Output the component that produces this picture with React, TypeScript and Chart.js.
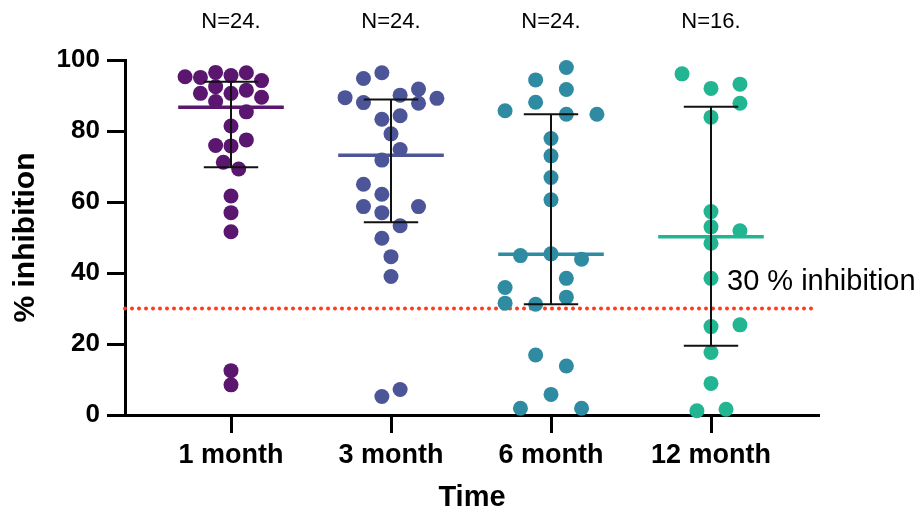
import React, { useEffect, useRef } from "react";
import { Chart, registerables } from "chart.js";

Chart.register(...registerables);

const categories = ["1 month", "3 month", "6 month", "12 month"];

const values1 = [95.3, 95.1, 96.5, 95.6, 96.4, 94.2, 90.6, 92.5, 90.6, 91.5, 89.5, 88.3, 85.4, 81.4, 75.9, 75.8, 77.5, 71.2, 69.3, 61.7, 57.0, 51.6, 12.5, 8.5];
const jitter1 = [-0.287, -0.191, -0.096, 0, 0.096, 0.191, -0.191, -0.096, 0, 0.096, 0.191, -0.096, 0.096, 0, -0.096, 0, 0.096, -0.048, 0.048, 0, 0, 0, 0, 0];

const values2 = [96.4, 94.8, 89.4, 88.0, 90.1, 91.8, 87.8, 89.2, 83.3, 84.3, 79.2, 74.8, 71.8, 65.0, 62.2, 58.7, 57.0, 58.7, 53.3, 49.8, 44.6, 39.0, 7.2, 5.2];
const jitter2 = [-0.057, -0.172, -0.287, -0.172, 0.057, 0.172, 0.172, 0.287, -0.057, 0.057, 0, 0.057, -0.057, -0.172, -0.057, -0.172, -0.057, 0.172, 0.057, -0.057, 0, 0, 0.057, -0.057];

const values3 = [97.9, 94.4, 91.7, 88.1, 85.7, 84.7, 84.7, 77.9, 73.0, 66.9, 60.6, 44.9, 45.4, 43.9, 38.5, 35.9, 33.2, 31.5, 31.2, 16.9, 13.8, 5.8, 1.9, 1.9];
const jitter3 = [0.096, -0.096, 0.096, -0.096, -0.287, 0.096, 0.287, 0, 0, 0, 0, -0.191, 0, 0.191, 0.096, -0.287, 0.096, -0.287, -0.096, -0.096, 0.096, 0, -0.191, 0.191];

const values4 = [96.1, 92.0, 93.2, 87.8, 83.9, 57.3, 53.0, 51.9, 48.4, 38.5, 24.9, 25.4, 17.6, 8.9, 1.2, 1.6];
const jitter4 = [-0.181, 0, 0.181, 0.181, 0, 0, 0, 0.181, 0, 0, 0, 0.181, 0, 0, -0.088, 0.094];

const medians = [86.7, 73.2, 45.3, 50.2];
const lowerQuartiles = [69.8, 54.3, 31.2, 19.5];
const upperQuartiles = [93.9, 88.9, 84.7, 86.8];

const threshold = 30;
const thresholdLabel = "30 % inhibition";
const yTitle = "% inhibition";
const xTitle = "Time";
const yMin = 0;
const yMax = 100;
const yStep = 20;

const groupValues = [values1, values2, values3, values4];
const groupJitter = [jitter1, jitter2, jitter3, jitter4];
const groupColors = ["#5b176f", "#4c5598", "#2f8ba1", "#22b591"];

const FONT = "'Liberation Sans', Arial, Helvetica, sans-serif";
const X_MIN = 0.3375;
const X_MAX = 4.675;
const MEDIAN_HALF = 0.33;
const CAP_HALF = 0.17;

const textPlugin = {
  id: "annotText",
  afterDraw(chart: any) {
    const { ctx, scales } = chart;
    const xs = scales.x;
    const ys = scales.y;
    ctx.save();
    ctx.fillStyle = "#000";
    ctx.textAlign = "center";
    ctx.textBaseline = "middle";
    ctx.font = `22px ${FONT}`;
    groupValues.forEach((vals, i) => {
      ctx.fillText(`N=${vals.length}.`, xs.getPixelForValue(i + 1), 22);
    });
    ctx.textAlign = "left";
    ctx.font = `29px ${FONT}`;
    ctx.fillText(thresholdLabel, xs.getPixelForValue(4) + 16, ys.getPixelForValue(threshold) - 27);
    ctx.restore();
  },
};

export default function App() {
  const ref = useRef<HTMLCanvasElement>(null);

  useEffect(() => {
    document.body.style.margin = "0";
    const canvas = ref.current;
    if (!canvas) return;

    const datasets: any[] = [];

    datasets.push({
      type: "line",
      data: [
        { x: X_MIN, y: threshold },
        { x: 4.66, y: threshold },
      ],
      borderColor: "#ff3b1f",
      borderWidth: 4,
      borderDash: [0, 7],
      borderCapStyle: "round",
      pointRadius: 0,
      order: 2,
      clip: false,
    });

    groupValues.forEach((vals, i) => {
      const g = i + 1;
      const color = groupColors[i];
      datasets.push({
        type: "scatter",
        data: vals.map((v, k) => ({ x: g + groupJitter[i][k], y: v })),
        backgroundColor: color,
        borderWidth: 0,
        pointRadius: 7.5,
        pointHoverRadius: 7.5,
        order: 1,
        clip: false,
      });
      const lineBase = {
        type: "line",
        borderColor: "#111",
        borderWidth: 2,
        pointRadius: 0,
        order: 0,
        clip: false,
      };
      datasets.push({
        ...lineBase,
        data: [
          { x: g, y: lowerQuartiles[i] },
          { x: g, y: upperQuartiles[i] },
        ],
      });
      datasets.push({
        ...lineBase,
        data: [
          { x: g - CAP_HALF, y: upperQuartiles[i] },
          { x: g + CAP_HALF, y: upperQuartiles[i] },
        ],
      });
      datasets.push({
        ...lineBase,
        data: [
          { x: g - CAP_HALF, y: lowerQuartiles[i] },
          { x: g + CAP_HALF, y: lowerQuartiles[i] },
        ],
      });
      datasets.push({
        ...lineBase,
        borderColor: color,
        borderWidth: 3.5,
        data: [
          { x: g - MEDIAN_HALF, y: medians[i] },
          { x: g + MEDIAN_HALF, y: medians[i] },
        ],
      });
    });

    const chart = new Chart(canvas, {
      type: "scatter",
      data: { datasets },
      plugins: [textPlugin],
      options: {
        animation: false,
        responsive: false,
        devicePixelRatio: 1,
        layout: { padding: { top: 60, right: 101, left: 0, bottom: 0 } },
        plugins: {
          legend: { display: false },
          tooltip: { enabled: false },
        },
        scales: {
          x: {
            type: "linear",
            min: X_MIN,
            max: X_MAX,
            afterBuildTicks: (s: any) => {
              s.ticks = categories.map((_, i) => ({ value: i + 1 }));
            },
            afterFit: (s: any) => {
              s.height = 98;
            },
            ticks: {
              color: "#000",
              padding: 6,
              maxRotation: 0,
              autoSkip: false,
              font: { family: FONT, size: 27, weight: "bold" },
              callback: (v: any) => categories[Math.round(Number(v)) - 1] ?? "",
            },
            grid: {
              drawOnChartArea: false,
              drawTicks: true,
              tickLength: 18,
              tickWidth: 3,
              tickColor: "#000",
            },
            border: { display: true, width: 3, color: "#000" },
            title: {
              display: true,
              text: xTitle,
              color: "#000",
              font: { family: FONT, size: 29, weight: "bold", lineHeight: 1 },
              padding: { top: 0, bottom: 1 },
            },
          },
          y: {
            type: "linear",
            min: yMin,
            max: yMax,
            afterFit: (s: any) => {
              s.width = 125;
            },
            ticks: {
              stepSize: yStep,
              color: "#000",
              padding: 7,
              font: { family: FONT, size: 26, weight: "bold" },
            },
            grid: {
              drawOnChartArea: false,
              drawTicks: true,
              tickLength: 18,
              tickWidth: 3,
              tickColor: "#000",
            },
            border: { display: true, width: 3, color: "#000" },
            title: {
              display: true,
              text: yTitle,
              color: "#000",
              font: { family: FONT, size: 30, weight: "bold", lineHeight: 1 },
              padding: { top: 11, bottom: 0 },
            },
          },
        },
      } as any,
    });

    return () => chart.destroy();
  }, []);

  return (
    <div style={{ width: 920, height: 513 }}>
      <canvas ref={ref} width={920} height={513} style={{ display: "block" }} />
    </div>
  );
}
